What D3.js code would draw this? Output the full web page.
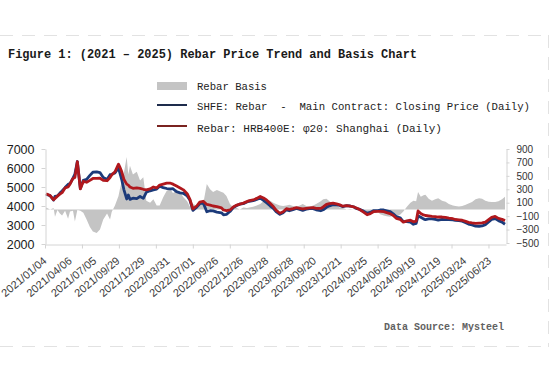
<!DOCTYPE html>
<html>
<head>
<meta charset="utf-8">
<script src="https://cdn.jsdelivr.net/npm/d3@7"></script>
<style>
  body { margin: 0; background: #fff; }
  svg { display: block; }
</style>
</head>
<body>
<script>
// Sample dates (about two per month)
const dates = [
  "2021-01-04","2021-01-19","2021-02-01","2021-02-06","2021-02-15","2021-02-24","2021-03-04","2021-03-15","2021-03-26","2021-04-02","2021-04-13","2021-04-20","2021-04-29","2021-05-10","2021-05-21","2021-06-02","2021-06-14","2021-06-25","2021-07-09","2021-07-21","2021-08-02","2021-08-16","2021-08-27","2021-09-02","2021-09-14","2021-09-27","2021-10-02","2021-10-09","2021-10-17","2021-10-27","2021-11-02","2021-11-08","2021-11-19","2021-12-03","2021-12-15","2021-12-27",
  "2022-01-07","2022-01-21","2022-02-02","2022-02-14","2022-02-25","2022-03-10","2022-03-23","2022-04-06","2022-04-15","2022-04-28","2022-05-11","2022-05-23","2022-06-06","2022-06-16","2022-06-27","2022-07-11","2022-07-22","2022-08-04","2022-08-17","2022-08-29","2022-09-09","2022-09-23","2022-10-10","2022-10-17","2022-10-28","2022-11-10","2022-11-22","2022-12-05","2022-12-16","2022-12-29",
  "2023-01-11","2023-01-20","2023-02-03","2023-02-16","2023-03-01","2023-03-13","2023-03-24","2023-04-06","2023-04-18","2023-04-28","2023-05-12","2023-05-24","2023-06-05","2023-06-16","2023-06-29","2023-07-12","2023-07-24","2023-08-04","2023-08-17","2023-08-29","2023-09-11","2023-09-22","2023-10-09","2023-10-18","2023-10-30","2023-11-10","2023-11-23","2023-12-06","2023-12-18","2023-12-29",
  "2024-01-12","2024-01-25","2024-02-06","2024-02-19","2024-03-01","2024-03-14","2024-03-27","2024-04-08","2024-04-19","2024-05-06","2024-05-14","2024-05-27","2024-06-07","2024-06-19","2024-07-01","2024-07-12","2024-07-26","2024-08-07","2024-08-20","2024-09-02","2024-09-13","2024-09-23","2024-09-30","2024-10-10","2024-10-20","2024-10-27","2024-11-08","2024-11-20","2024-12-02","2024-12-13","2024-12-27",
  "2025-01-09","2025-01-21","2025-02-05","2025-02-14","2025-02-27","2025-03-11","2025-03-24","2025-04-03","2025-04-16","2025-04-29","2025-05-12","2025-05-23","2025-06-04","2025-06-16","2025-06-27","2025-07-10","2025-07-22","2025-08-04","2025-08-15"
];

// Rebar: HRB400E: φ20: Shanghai (left axis)
const spotPrice = [
  4650,4550,4330,4400,4520,4620,4700,4950,5000,5150,5450,5500,6330,4900,5300,5250,5350,5450,5450,5460,5350,5330,5500,5630,5800,6200,6050,5800,5400,5150,5100,5000,4930,4950,4930,4880,
  4850,4900,5000,4950,5100,5150,5200,5200,5150,5050,4950,4850,4650,4350,3850,4000,4200,4250,4080,4050,4000,3970,3900,3790,3760,3790,3950,4050,4100,4150,
  4230,4280,4320,4400,4500,4420,4320,4140,3970,3780,3620,3700,3860,3820,3860,3910,3880,3850,3880,3900,3920,3880,3870,3950,4090,4130,4150,4110,4060,3990,
  4020,3990,3960,3880,3800,3680,3540,3600,3700,3720,3720,3700,3650,3600,3500,3350,3300,3150,3220,3250,3170,3200,3740,3600,3530,3500,3480,3450,3440,3420,3420,
  3400,3360,3330,3290,3270,3250,3190,3140,3110,3090,3100,3110,3150,3280,3400,3450,3350,3300,3230
];

// SHFE rebar main contract closing price (left axis)
const futuresPrice = [
  4620,4550,4310,4510,4530,4680,4790,4970,5140,5180,5470,5680,6340,4920,5350,5400,5610,5780,5800,5760,5500,5390,5650,5670,5740,6000,5750,5380,4850,4370,4580,4350,4410,4390,4500,4400,
  4720,4800,4850,4890,5040,4970,4920,4900,4910,4750,4690,4670,4530,4310,3770,3940,4120,4160,3700,3750,3740,3680,3640,3540,3560,3710,3920,4030,4100,4120,
  4210,4250,4280,4340,4420,4300,4170,4010,3870,3700,3560,3650,3800,3750,3810,3870,3820,3770,3830,3860,3860,3800,3750,3800,3930,4010,4070,4060,4030,3970,
  4020,4000,3960,3860,3820,3730,3620,3660,3750,3760,3790,3790,3750,3710,3590,3450,3380,3180,3180,3150,3040,3080,3480,3410,3320,3280,3320,3320,3290,3255,3290,
  3285,3280,3270,3240,3225,3200,3120,3050,3000,2940,2935,2950,3020,3165,3290,3340,3230,3150,3040
];

// Rebar basis (right axis)
const basisValues = [
  30,0,20,-110,-10,-60,-90,-20,-140,-30,-20,-180,-10,-20,-50,-150,-260,-330,-350,-300,-150,-60,-150,-40,60,200,300,420,550,780,520,650,520,560,430,480,
  130,100,150,60,60,180,280,300,240,300,260,180,120,40,80,60,80,90,380,300,260,290,260,250,200,80,30,20,0,30,
  20,30,40,60,80,120,150,130,100,80,60,50,60,70,50,40,60,80,50,40,60,80,120,150,160,120,80,50,30,20,
  0,-10,0,20,-20,-50,-80,-60,-50,-40,-70,-90,-100,-110,-90,-100,-80,-30,40,100,130,120,260,190,210,220,160,130,150,165,130,
  115,80,60,50,45,50,70,90,110,150,165,160,130,115,110,110,120,150,190
];

const xTickLabels = [
  "2021/01/04","2021/04/06","2021/07/05","2021/09/29","2021/12/29","2022/03/31","2022/07/01",
  "2022/09/26","2022/12/26","2023/03/28","2023/06/28","2023/09/20","2023/12/21","2024/03/25",
  "2024/06/25","2024/09/19","2024/12/19","2025/03/24","2025/06/23"
];
const leftTicks = [2000, 3000, 4000, 5000, 6000, 7000];
const rightTicks = [-500, -300, -100, 100, 300, 500, 700, 900];

const legendNames = [
  "Rebar Basis",
  "SHFE: Rebar  -  Main Contract: Closing Price (Daily)",
  "Rebar: HRB400E: φ20: Shanghai (Daily)"
];

const SVG_WIDTH = 550, SVG_HEIGHT = 371;
const BASIS_COLOR = "#c4c4c4", FUTURES_COLOR = "#1b3a7a", SPOT_COLOR = "#b0181d";
const MONO = "'Liberation Mono', 'DejaVu Sans Mono', monospace";
const SANS = "'Liberation Sans', Arial, sans-serif";

let svg = null;
let x, yLeft, yRight = null;
let rows = null;
const parseDate = d3.timeParse("%Y-%m-%d");
const parseLabel = d3.timeParse("%Y/%m/%d");

// Main Process
buildRows();
appendSvg("body");
setupScales();
appendFrame();
appendTitle();
appendLegend();
appendBasisArea();
appendPriceLines();
appendAxes();
appendSource();


function buildRows() {
  rows = dates.map((d, i) => ({
    date: parseDate(d),
    spot: spotPrice[i],
    futures: futuresPrice[i],
    basis: basisValues[i]
  }));
}

function appendSvg(domElement) {
  svg = d3.select(domElement).append("svg")
    .attr("width", SVG_WIDTH)
    .attr("height", SVG_HEIGHT)
    .style("background", "#fff");
}

function setupScales() {
  x = d3.scaleTime()
    .domain([parseDate("2021-01-04"), parseDate("2025-08-15")])
    .range([46, 505]);

  yLeft = d3.scaleLinear().domain([2000, 7000]).range([244, 149]);
  yRight = d3.scaleLinear().domain([-500, 900]).range([243, 149]);
}

// light dashed frame around the figure
function appendFrame() {
  const g = svg.append("g")
    .attr("fill", "none")
    .attr("stroke", "#e2e2e2")
    .attr("stroke-dasharray", "13,9");
  g.append("line").attr("x1", 0).attr("x2", 548).attr("y1", 35.5).attr("y2", 35.5);
  g.append("line").attr("x1", 0).attr("x2", 548).attr("y1", 346.5).attr("y2", 346.5);
  g.append("line").attr("x1", 548.5).attr("x2", 548.5).attr("y1", 35).attr("y2", 347);
}

function appendTitle() {
  svg.append("text")
    .attr("x", 8)
    .attr("y", 58)
    .attr("font-family", MONO)
    .attr("font-size", 13)
    .attr("font-weight", "bold")
    .attr("fill", "#1a1a1a")
    .attr("textLength", 409)
    .attr("lengthAdjust", "spacingAndGlyphs")
    .text("Figure 1: (2021 – 2025) Rebar Price Trend and Basis Chart");
}

function appendLegend() {
  const rowY = [86, 106, 128];
  const widths = [70, 333, 245];
  const g = svg.append("g");

  g.append("rect")
    .attr("x", 157).attr("y", rowY[0] - 4)
    .attr("width", 30).attr("height", 8)
    .attr("fill", BASIS_COLOR);
  g.append("line")
    .attr("x1", 157).attr("x2", 187).attr("y1", rowY[1] - 1).attr("y2", rowY[1] - 1)
    .attr("stroke", "#1e2c4c").attr("stroke-width", 2);
  g.append("line")
    .attr("x1", 157).attr("x2", 187).attr("y1", rowY[2] - 2).attr("y2", rowY[2] - 2)
    .attr("stroke", "#7a2320").attr("stroke-width", 2);

  g.selectAll("text.legend")
    .data(legendNames)
    .enter().append("text")
    .attr("class", "legend")
    .attr("x", 197)
    .attr("y", (d, i) => rowY[i] + 4)
    .attr("font-family", MONO)
    .attr("font-size", 11)
    .attr("fill", "#222")
    .attr("xml:space", "preserve")
    .style("white-space", "pre")
    .attr("textLength", (d, i) => widths[i])
    .attr("lengthAdjust", "spacingAndGlyphs")
    .text(d => d);
}

// basis drawn as grey area from zero on the right axis
function appendBasisArea() {
  const area = d3.area()
    .x(d => x(d.date))
    .y0(yRight(0))
    .y1(d => yRight(d.basis));

  svg.append("path")
    .datum(rows)
    .attr("fill", BASIS_COLOR)
    .attr("d", area);
}

function appendPriceLines() {
  const futuresLine = d3.line().x(d => x(d.date)).y(d => yLeft(d.futures));
  const spotLine = d3.line().x(d => x(d.date)).y(d => yLeft(d.spot));

  svg.append("path")
    .datum(rows)
    .attr("fill", "none")
    .attr("stroke", FUTURES_COLOR)
    .attr("stroke-width", 2.8)
    .attr("stroke-linejoin", "round")
    .attr("d", futuresLine);

  svg.append("path")
    .datum(rows)
    .attr("fill", "none")
    .attr("stroke", SPOT_COLOR)
    .attr("stroke-width", 2.8)
    .attr("stroke-linejoin", "round")
    .attr("d", spotLine);
}

function styleAxis(g) {
  g.select(".domain").attr("stroke", "#d4d4d4");
  g.selectAll(".tick line").attr("stroke", "#d4d4d4");
}

function appendAxes() {
  // left axis
  svg.append("g")
    .attr("transform", "translate(45.5,0)")
    .call(d3.axisLeft(yLeft).tickValues(leftTicks).tickFormat(d3.format("d"))
      .tickSize(4).tickSizeOuter(0).tickPadding(7))
    .call(styleAxis)
    .call(g => g.selectAll("text")
      .attr("font-family", SANS).attr("font-size", 12.5).attr("fill", "#1a1a1a"));

  // right axis (basis)
  svg.append("g")
    .attr("transform", "translate(506.5,0)")
    .call(d3.axisRight(yRight).tickValues(rightTicks).tickSize(3).tickSizeOuter(0).tickPadding(7))
    .call(styleAxis)
    .call(g => g.selectAll("text")
      .attr("font-family", SANS).attr("font-size", 10).attr("fill", "#333"));

  // bottom axis: tick marks every ~135 days, no labels
  const start = x.domain()[0];
  const tickDates = d3.range(13).map(i => d3.timeDay.offset(start, i * 135));
  const xb = x.copy().range([45, 506]);
  svg.append("g")
    .attr("transform", "translate(0,244.5)")
    .call(d3.axisBottom(xb).tickValues(tickDates).tickSize(4).tickSizeOuter(0).tickFormat(""))
    .call(styleAxis);

  // rotated date labels
  svg.append("g")
    .selectAll("text")
    .data(xTickLabels)
    .enter().append("text")
    .attr("transform", d => `translate(${x(parseLabel(d)) + 1.5},262) rotate(-40)`)
    .attr("text-anchor", "end")
    .attr("font-family", SANS)
    .attr("font-size", 11)
    .attr("fill", "#3a3a3a")
    .text(d => d);
}

function appendSource() {
  svg.append("text")
    .attr("x", 384)
    .attr("y", 330)
    .attr("font-family", MONO)
    .attr("font-size", 11)
    .attr("font-weight", "bold")
    .attr("fill", "#616161")
    .attr("textLength", 120)
    .attr("lengthAdjust", "spacingAndGlyphs")
    .text("Data Source: Mysteel");
}
</script>
</body>
</html>
